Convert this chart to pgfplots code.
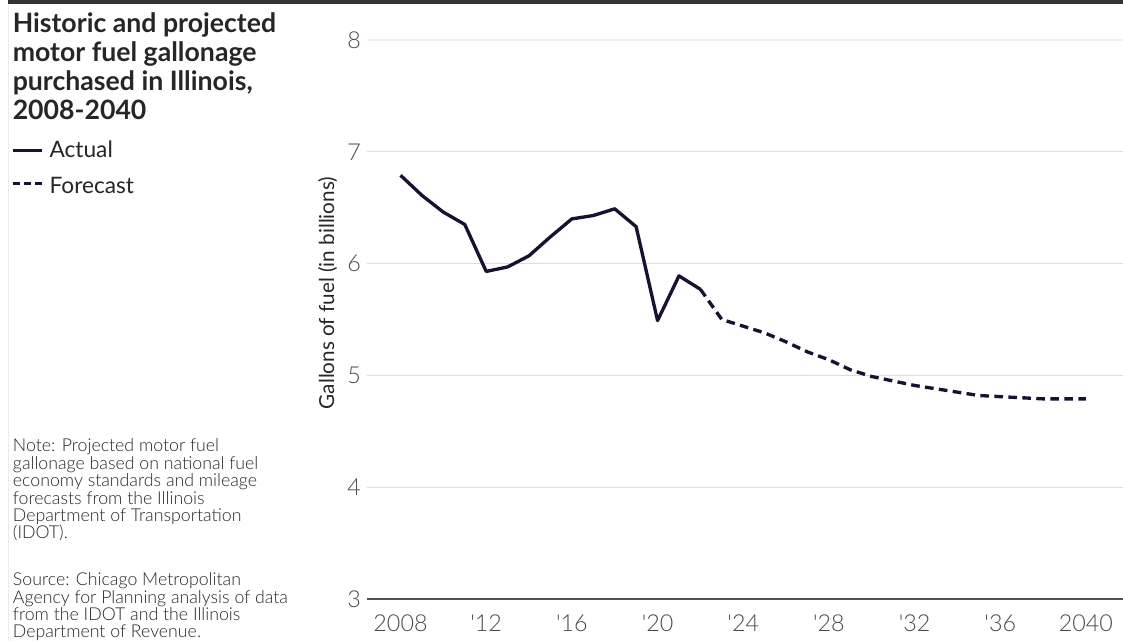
\documentclass[border=0pt]{standalone}
\usepackage{pgfplots}
\pgfplotsset{compat=1.18}
\usepackage{fontspec}
\setmainfont{Lato}
\newfontfamily\light{Lato Light}
\definecolor{linecol}{RGB}{28,16,50}
\definecolor{gridcol}{HTML}{DDDDDD}
\definecolor{txt}{HTML}{262626}
\definecolor{tick}{HTML}{4A4A4A}
\begin{document}
\begin{tikzpicture}[x=0.75pt,y=0.75pt]
\path[use as bounding box, fill=white] (0,0) rectangle (1123,641);
% top rule and faint left border
\fill[black!80] (8,637) rectangle (1123,641);
\draw[black!8, line width=0.75pt] (8.5,0) -- (8.5,637);
% title (anchor at last line's baseline)
\node[anchor=base west, inner sep=0, align=left, text=txt,
      font=\fontsize{20pt}{21.8pt}\selectfont\bfseries] at (12.5,641-119.3)
  {Historic and projected\\motor fuel gallonage\\purchased in Illinois,\\2008-2040};
% legend
\draw[linecol, line width=2.4pt] (12.7,641-150.5) -- (42.3,641-150.5);
\node[anchor=base west, inner sep=0, text=txt, font=\fontsize{17pt}{19pt}\selectfont] at (49.3,641-157.5) {Actual};
\draw[linecol, line width=2.4pt, dash pattern=on 5.5pt off 3pt] (12.7,641-183.5) -- (42.3,641-183.5);
\node[anchor=base west, inner sep=0, text=txt, font=\fontsize{17pt}{19pt}\selectfont] at (49.3,641-193.3) {Forecast};
% notes (anchored at last line's baseline)
\node[anchor=base west, inner sep=0, align=left, text=txt,
      font=\fontsize{13.3pt}{13.1pt}\selectfont\light] at (12.7,641-539)
  {Note: Projected motor fuel\\gallonage based on national fuel\\economy standards and mileage\\forecasts from the Illinois\\Department of Transportation\\(IDOT).};
\node[anchor=base west, inner sep=0, align=left, text=txt,
      font=\fontsize{13.3pt}{13pt}\selectfont\light] at (12.7,641-637.7)
  {Source: Chicago Metropolitan\\Agency for Planning analysis of data\\from the IDOT and the Illinois\\Department of Revenue.};
% y label
\node[rotate=90, anchor=base, inner sep=0, text=txt, font=\fontsize{15.5pt}{19pt}\selectfont] at (334,641-293)
  {Gallons of fuel (in billions)};
\begin{axis}[
  at={(275.25pt,31.5pt)}, anchor=south west,
  scale only axis, width=567pt, height=419.25pt,
  xmin=2006.435, xmax=2041.73, ymin=3, ymax=8,
  axis x line*=bottom, axis y line*=left,
  x axis line style={draw=black!68, line width=1.5pt},
  y axis line style={draw=none},
  major tick length=0pt,
  xtick={2008,2012,2016,2020,2024,2028,2032,2036,2040},
  xticklabels={2008,\textquotesingle12,\textquotesingle16,\textquotesingle20,\textquotesingle24,\textquotesingle28,\textquotesingle32,\textquotesingle36,2040},
  ytick={4,5,6,7},
  extra y ticks={3,8},
  extra y tick style={grid=none},
  ymajorgrids,
  grid style={gridcol, line width=0.9pt},
  /pgf/number format/assume math mode=true,
  ticklabel style={font=\fontsize{17.5pt}{19pt}\selectfont\light, text=tick},
  xticklabel style={yshift=-8.5pt},
  yticklabel style={xshift=-1pt},
  clip=false,
]
\draw[black!6, line width=0.9pt] (axis cs:2006.435,8) -- (axis cs:2041.73,8);
\addplot[linecol, line width=2.5pt, line join=round] coordinates {
(2008,6.79) (2009,6.61) (2010,6.46) (2011,6.35) (2012,5.93) (2013,5.97)
(2014,6.07) (2015,6.24) (2016,6.40) (2017,6.43) (2018,6.49) (2019,6.33)
(2020,5.49) (2021,5.89) (2022,5.77)};
\addplot[linecol, line width=2.5pt, line join=round, dash pattern=on 6.5pt off 4pt] coordinates {
(2022,5.77) (2023,5.50) (2024,5.44) (2025,5.38) (2026,5.30) (2027,5.21)
(2028,5.14) (2029,5.05) (2030,4.99) (2031,4.95) (2032,4.91) (2033,4.88)
(2034,4.85) (2035,4.82) (2036,4.81) (2037,4.80) (2038,4.79) (2039,4.79)
(2040,4.79)};
\end{axis}
\end{tikzpicture}
\end{document}
